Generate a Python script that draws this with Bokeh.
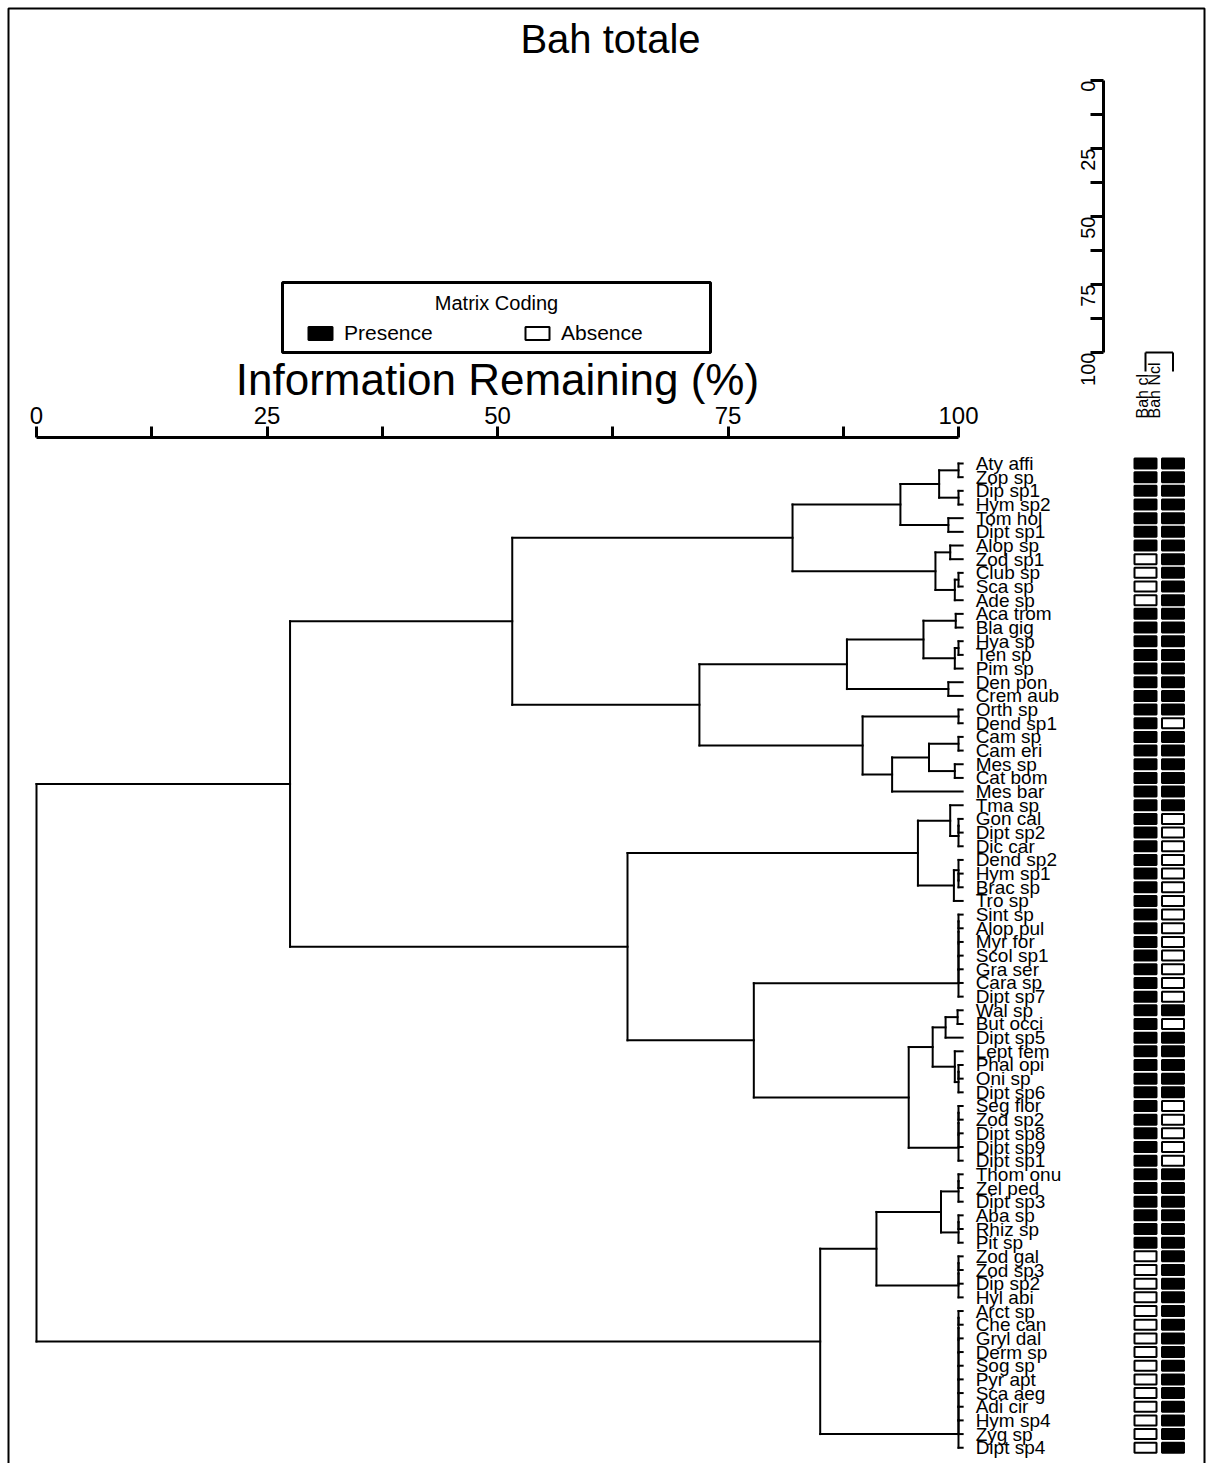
import math

from bokeh.core.properties import value
from bokeh.embed import file_html
from bokeh.models import (BoxAnnotation, ColumnDataSource, FixedTicker, Grid,
                          Label, Legend, LegendItem, LinearAxis, Range1d)
from bokeh.plotting import figure
from bokeh.resources import INLINE

# ---------------------------------------------------------------- data
title_text = "Bah totale"

species = [
    "Aty affi", "Zop sp", "Dip sp1", "Hym sp2", "Tom hol", "Dipt sp1", "Alop sp",
    "Zod sp1", "Club sp", "Sca sp", "Ade sp", "Aca trom", "Bla gig", "Hya sp",
    "Ten sp", "Pim sp", "Den pon", "Crem aub", "Orth sp", "Dend sp1", "Cam sp",
    "Cam eri", "Mes sp", "Cat bom", "Mes bar", "Tma sp", "Gon cal", "Dipt sp2",
    "Dic car", "Dend sp2", "Hym sp1", "Brac sp", "Tro sp", "Sint sp", "Alop pul",
    "Myr for", "Scol sp1", "Gra ser", "Cara sp", "Dipt sp7", "Wal sp", "But occi",
    "Dipt sp5", "Lept fem", "Phal opi", "Oni sp", "Dipt sp6", "Seg flor", "Zod sp2",
    "Dipt sp8", "Dipt sp9", "Dipt sp1", "Thom onu", "Zel ped", "Dipt sp3", "Aba sp",
    "Rhiz sp", "Pit sp", "Zod gal", "Zod sp3", "Dip sp2", "Hyl abi", "Arct sp",
    "Che can", "Gryl dal", "Derm sp", "Sog sp", "Pyr apt", "Sca aeg", "Adi cir",
    "Hym sp4", "Zyg sp", "Dipt sp4",
]

# presence (1) / absence (0) per site, in leaf order
column_names = ["Bah cl", "Bah Ncl"]
bah_cl = [
    1, 1, 1, 1, 1, 1, 1, 0, 0, 0,
    0, 1, 1, 1, 1, 1, 1, 1, 1, 1,
    1, 1, 1, 1, 1, 1, 1, 1, 1, 1,
    1, 1, 1, 1, 1, 1, 1, 1, 1, 1,
    1, 1, 1, 1, 1, 1, 1, 1, 1, 1,
    1, 1, 1, 1, 1, 1, 1, 1, 0, 0,
    0, 0, 0, 0, 0, 0, 0, 0, 0, 0,
    0, 0, 0,
]
bah_ncl = [
    1, 1, 1, 1, 1, 1, 1, 1, 1, 1,
    1, 1, 1, 1, 1, 1, 1, 1, 1, 0,
    1, 1, 1, 1, 1, 1, 0, 0, 0, 0,
    0, 0, 0, 0, 0, 0, 0, 0, 0, 0,
    1, 0, 1, 1, 1, 1, 1, 0, 0, 0,
    0, 0, 1, 1, 1, 1, 1, 1, 1, 1,
    1, 1, 1, 1, 1, 1, 1, 1, 1, 1,
    1, 1, 1,
]

# hclust-style merge table: negative = leaf number, positive = earlier merge
merge_a = [
    -1, -3, 1, -5, 3, -7, -9, 7, 6, 5,
    -12, -14, 12, 11, -17, 14, -19, -21, -23, 18,
    20, 17, 16, 10, -27, 25, -26, -31, -30, 29,
    27, -34, 32, 33, 34, 35, 36, -41, 38, -45,
    40, -44, 39, -48, 44, 45, 46, 43, 37, 31,
    24, -53, 52, -56, 54, 53, -59, 57, 58, 56,
    -63, 61, 62, 63, 64, 65, 66, 67, 68, 69,
    60, 51,
]
merge_b = [
    -2, -4, 2, -6, 4, -8, -10, -11, 8, 9,
    -13, -15, -16, 13, -18, 15, -20, -22, -24, 19,
    -25, 21, 22, 23, -28, -29, 26, -32, 28, -33,
    30, -35, -36, -37, -38, -39, -40, -42, -43, -46,
    -47, 41, 42, -49, -50, -51, -52, 47, 48, 49,
    50, -54, -55, -57, -58, 55, -60, -61, -62, 59,
    -64, -65, -66, -67, -68, -69, -70, -71, -72, -73,
    70, 71,
]
# information remaining (%) at each fusion
merge_h = [
    100.0, 100.0, 97.9, 98.9, 93.7, 99.1, 100.0, 99.6, 97.5, 82.0,
    99.7, 100.0, 99.6, 96.2, 98.9, 87.9, 100.0, 100.0, 99.6, 96.8,
    92.8, 89.6, 71.9, 51.6, 100.0, 100.0, 99.1, 100.0, 100.0, 99.5,
    95.6, 100.0, 100.0, 100.0, 100.0, 100.0, 100.0, 99.9, 98.6, 100.0,
    100.0, 99.6, 97.2, 100.0, 100.0, 100.0, 100.0, 94.6, 77.8, 64.1,
    27.5, 100.0, 100.0, 100.0, 100.0, 98.1, 100.0, 100.0, 100.0, 91.1,
    100.0, 100.0, 100.0, 100.0, 100.0, 100.0, 100.0, 100.0, 100.0, 100.0,
    85.0, 0.0,
]

# the two sites fuse at the bottom of their own scale
column_merge_h = 100.0

axis_ticks = [0, 25, 50, 75, 100]
axis_minor_ticks = [12.5, 37.5, 62.5, 87.5]

# ---------------------------------------------------------------- layout
W, H = 1206, 1463
X0_PX, X100_PX = 36.0, 958.0          # 0 % and 100 % on the main axis
ROW1_PX, ROW_STEP = 463.0, 13.67      # first leaf and leaf spacing
CLU0_PX, CLU100_PX = 80.0, 352.0      # site-dendrogram scale
COL1_PX, COL_STEP = 1145.0, 27.5      # matrix column centres

sx = (X100_PX - X0_PX) / 100.0
sc = (CLU100_PX - CLU0_PX) / 100.0


def row_at(px):
    return 1 + (px - ROW1_PX) / ROW_STEP


def pct_at(px):
    return (px - X0_PX) / sx


def clu_at(px):
    return (px - CLU0_PX) / sc


def col_at(px):
    return 1 + (px - COL1_PX) / COL_STEP


p = figure(
    width=W, height=H,
    x_range=Range1d(pct_at(0), pct_at(W)),
    y_range=Range1d(row_at(H), row_at(0)),
    output_backend="svg", toolbar_location=None,
    x_axis_location=None, y_axis_location=None,
    min_border=0, outline_line_color=None,
    background_fill_color="white", border_fill_color="white",
)
p.extra_x_ranges = {"mat": Range1d(col_at(0), col_at(W))}
p.extra_y_ranges = {"clu": Range1d(clu_at(H), clu_at(0))}
for r in p.center:
    if isinstance(r, Grid):
        r.visible = False

FONT = "Liberation Sans"

# ---------------------------------------------------------------- dendrogram
LEAF_TIP = 100.45
n_merge = len(merge_h)
node_y = [0.0] * n_merge
x0, y0, x1, y1 = [], [], [], []


def child(c):
    if c < 0:
        return float(-c), LEAF_TIP
    return node_y[c - 1], merge_h[c - 1]


for k in range(n_merge):
    ya, xa = child(merge_a[k])
    yb, xb = child(merge_b[k])
    h = merge_h[k]
    x0 += [h, h, h]
    y0 += [ya, ya, yb]
    x1 += [h, xa, xb]
    y1 += [yb, ya, yb]
    node_y[k] = (ya + yb) / 2.0

p.segment(x0=x0, y0=y0, x1=x1, y1=y1, line_color="black", line_width=2,
          line_cap="square")

leaf_rows = list(range(1, len(species) + 1))
p.text(x=[LEAF_TIP + pct_at(975) - pct_at(962)] * len(species), y=leaf_rows,
       text=species, text_font=value(FONT), text_font_size="19px",
       text_align="left", text_baseline="middle", text_color="black")

# ---------------------------------------------------------------- matrix
pres = dict(col=[], row=[])
abse = dict(col=[], row=[])
for ci, col in enumerate([bah_cl, bah_ncl], start=1):
    for ri, v in enumerate(col, start=1):
        tgt = pres if v else abse
        tgt["col"].append(ci)
        tgt["row"].append(ri)

cell_w = 22.0 / COL_STEP
cell_h = 10.0 / ROW_STEP
r_pres = p.rect(x="col", y="row", width=cell_w, height=cell_h,
                source=ColumnDataSource(pres), x_range_name="mat",
                fill_color="black", line_color="black", line_width=2)
r_abs = p.rect(x="col", y="row", width=cell_w, height=cell_h,
               source=ColumnDataSource(abse), x_range_name="mat",
               fill_color="white", line_color="black", line_width=2)

# ---------------------------------------------------------------- site dendrogram
tip = clu_at(371)
p.segment(x0=[1, 1, 2], y0=[column_merge_h] * 3, x1=[2, 1, 2],
          y1=[column_merge_h, tip, tip], x_range_name="mat", y_range_name="clu",
          line_color="black", line_width=2)
p.text(x=[col_at(1142), col_at(1154)], y=[clu_at(418)] * 2, text=column_names,
       angle=math.pi / 2, x_range_name="mat", y_range_name="clu",
       text_font=value(FONT), text_font_size="16px", text_align="left",
       text_baseline="middle", text_color="black")

clu_axis = LinearAxis(
    y_range_name="clu", fixed_location=pct_at(1103), bounds=(0, 100),
    ticker=FixedTicker(ticks=axis_ticks, minor_ticks=axis_minor_ticks),
    major_label_orientation=math.pi / 2,
    axis_line_width=3, axis_line_color="black",
    major_tick_line_width=3, minor_tick_line_width=3,
    major_tick_out=13, major_tick_in=0, minor_tick_out=13, minor_tick_in=0,
    major_label_text_font=FONT, major_label_text_font_size="20px",
    major_label_text_color="black", major_label_standoff=3,
)
p.add_layout(clu_axis, "left")

# ---------------------------------------------------------------- main axis
top_axis = LinearAxis(
    fixed_location=row_at(437), bounds=(0, 100),
    ticker=FixedTicker(ticks=axis_ticks, minor_ticks=axis_minor_ticks),
    axis_label="Information Remaining (%)",
    axis_label_text_font=FONT, axis_label_text_font_size="44px",
    axis_label_text_font_style="normal", axis_label_text_color="black",
    axis_label_standoff=0,
    axis_line_width=3, axis_line_color="black",
    major_tick_line_width=3, minor_tick_line_width=3,
    major_tick_out=11, major_tick_in=0, minor_tick_out=11, minor_tick_in=0,
    major_label_text_font=FONT, major_label_text_font_size="24px",
    major_label_text_color="black", major_label_standoff=3,
)
p.add_layout(top_axis, "above")

# ---------------------------------------------------------------- title
p.add_layout(Label(x=pct_at(610), y=clu_at(38), y_range_name="clu",
                   text=title_text, text_font=FONT, text_font_size="40px",
                   text_align="center", text_baseline="middle",
                   text_color="black"))

# ---------------------------------------------------------------- legend box
p.add_layout(BoxAnnotation(left=pct_at(282), right=pct_at(710),
                           top=row_at(282), bottom=row_at(352),
                           fill_color="white", fill_alpha=1.0,
                           line_color="black", line_alpha=1.0, line_width=3))
p.add_layout(Label(x=pct_at(496), y=row_at(302), text="Matrix Coding",
                   text_font=FONT, text_font_size="20px", text_align="center",
                   text_baseline="middle", text_color="black"))
legend = Legend(
    items=[LegendItem(label="Presence", renderers=[r_pres]),
           LegendItem(label="Absence", renderers=[r_abs])],
    orientation="horizontal", location=(305, H - 345),
    label_text_font=FONT, label_text_font_size="21px", label_standoff=9,
    label_text_color="black",
    label_width=138, label_height=22, glyph_width=30, glyph_height=16,
    spacing=40, padding=0, margin=0,
    border_line_alpha=0, background_fill_alpha=0,
)
p.add_layout(legend)

# ---------------------------------------------------------------- page frame
p.add_layout(BoxAnnotation(left=pct_at(8), right=pct_at(1204), top=row_at(8),
                           bottom=row_at(H + 20), fill_alpha=0,
                           line_color="black", line_alpha=1.0, line_width=2))

open("out.html", "w").write(file_html(p, INLINE))
